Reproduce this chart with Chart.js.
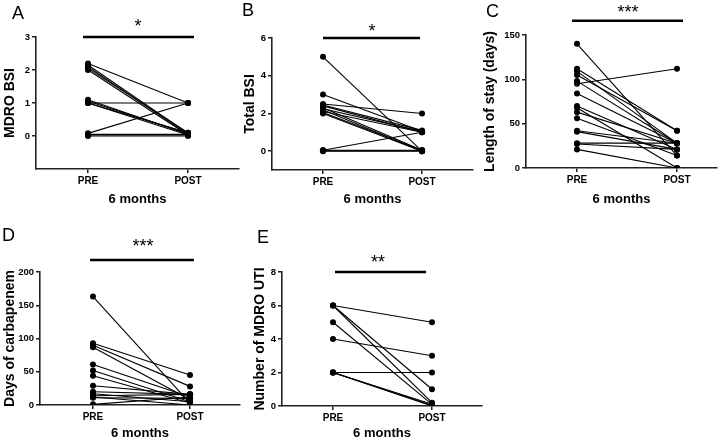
<!DOCTYPE html>
<html>
<head>
<meta charset="utf-8">
<script src="https://cdn.jsdelivr.net/npm/chart.js@4.4.1/dist/chart.umd.min.js"></script>
<style>
body { margin: 0; background: #fff; width: 728px; height: 441px; position: relative; overflow: hidden; font-family: 'Liberation Sans', Arial, sans-serif; }
canvas { position: absolute; }
.letter { position: absolute; font-size: 18px; line-height: 1; color: #000; }
.sig { position: absolute; font-size: 18px; line-height: 1; color: #000; transform: translateX(-50%); white-space: nowrap; }
</style>
</head>
<body>
<script>
// Shared axis text
const xLabels = ['PRE', 'POST'];
const xTitle = '6 months';

// A - MDRO BSI
const preA = [2.2, 2.15, 2.1, 2.05, 2.0, 1.1, 1.05, 1.0, 1.0, 1.0, 0.08, 0.05, 0.03, 0];
const postA = [1, 0.08, 0.05, 0.1, 0.03, 0.05, 0.08, 1, 0.03, 0.1, 1, 0.05, 0.03, 0];
const ticksA = [0, 1, 2, 3];

// B - Total BSI
const preB = [5, 3, 2.5, 2.45, 2.4, 2.3, 2.25, 2.2, 2.1, 2.05, 2.0, 0.05, 0.05, 0.02, 0];
const postB = [0, 1.05, 2, 1.1, 1.0, 0.05, 1.05, 0, 1.0, 0.05, 0, 1.0, 0.05, 0.02, 0];
const ticksB = [0, 2, 4, 6];

// C - Length of stay
const preC = [140, 112, 109, 105, 98, 95, 84, 70, 68, 63, 56, 42, 41, 28, 27, 21];
const postC = [14, 42, 28, 42, 28, 112, 28, 21, 0, 28, 14, 28, 21, 28, 21, 0];
const ticksC = [0, 50, 100, 150];

// D - Days of carbapenem
const preD = [163, 93, 90, 87, 61, 52, 44, 29, 20, 17, 14, 12, 11, 1];
const postD = [3, 45, 28, 8, 12, 5, 3, 16, 16, 5, 16, 0, 10, 12];
const ticksD = [0, 50, 100, 150, 200];

// E - Number of MDRO UTI
const preE = [6, 6, 6, 5, 4, 2, 2, 2, 2];
const postE = [5, 1, 0.2, 0.1, 3, 2, 0.1, 0.05, 0];
const ticksE = [0, 2, 4, 6, 8];

const yTitles = ['MDRO BSI', 'Total BSI', 'Length of stay (days)', 'Days of carbapenem', 'Number of MDRO UTI'];
const panelLetters = ['A', 'B', 'C', 'D', 'E'];
const sigText = ['*', '*', '***', '***', '**'];
const sigLevel = [3, 6, 166, 218, 8];

// layout of each panel (canvas box + chart area edges)
const panels = [
    { pre: preA, post: postA, ticks: ticksA, yMin: -1, yMax: 3, xMin: -0.52, xMax: 1.51, bar: [-0.05, 1.06],
      box: [0, 0, 245, 210], area: [36, 37, 239, 169], letter: [12, 4], star: [138, 17] },
    { pre: preB, post: postB, ticks: ticksB, yMin: -1, yMax: 6, xMin: -0.515, xMax: 1.515, bar: [0, 0.98],
      box: [240, 0, 240, 210], area: [272, 38, 473, 170], letter: [242, 1], star: [372, 22] },
    { pre: preC, post: postC, ticks: ticksC, yMin: 0, yMax: 150, xMin: -0.51, xMax: 1.4, bar: [-0.05, 1.06],
      box: [480, 0, 248, 210], area: [526, 35, 717, 168], letter: [486, 2], star: [628, 3] },
    { pre: preD, post: postD, ticks: ticksD, yMin: 0, yMax: 200, xMin: -0.546, xMax: 1.515, bar: [-0.03, 1.04],
      box: [0, 215, 250, 226], area: [40, 272, 240, 405], letter: [2, 226], star: [143, 237] },
    { pre: preE, post: postE, ticks: ticksE, yMin: 0, yMax: 8, xMin: -0.515, xMax: 1.505, bar: [0.02, 0.94],
      box: [250, 215, 240, 226], area: [282, 272, 482, 406], letter: [257, 228], star: [378, 253] }
];

const AXIS = '#222';
Chart.defaults.font.family = "'Liberation Sans', Arial, sans-serif";
Chart.defaults.color = '#000';

panels.forEach((p, i) => {
    const [bx, by, bw, bh] = p.box;
    const [ax, ay, ar, ab] = p.area;

    const canvas = document.createElement('canvas');
    canvas.width = bw;
    canvas.height = bh;
    canvas.style.left = bx + 'px';
    canvas.style.top = by + 'px';
    document.body.appendChild(canvas);

    const letter = document.createElement('div');
    letter.className = 'letter';
    letter.style.left = p.letter[0] + 'px';
    letter.style.top = p.letter[1] + 'px';
    letter.textContent = panelLetters[i];
    document.body.appendChild(letter);

    const star = document.createElement('div');
    star.className = 'sig';
    star.style.left = p.star[0] + 'px';
    star.style.top = p.star[1] + 'px';
    star.textContent = sigText[i];
    document.body.appendChild(star);

    // one line per subject
    const datasets = p.pre.map((v, k) => ({
        data: [{ x: 0, y: v }, { x: 1, y: p.post[k] }],
        borderColor: '#000',
        borderWidth: 1.1,
        pointRadius: 3,
        pointBackgroundColor: '#000',
        pointBorderWidth: 0
    }));

    // significance bar
    datasets.push({
        data: [{ x: p.bar[0], y: sigLevel[i] }, { x: p.bar[1], y: sigLevel[i] }],
        borderColor: '#000',
        borderWidth: 2.6,
        pointRadius: 0,
        clip: false
    });

    const yWidth = ax - bx;
    const xHeight = (by + bh) - ab;

    new Chart(canvas.getContext('2d'), {
        type: 'line',
        data: { datasets },
        options: {
            responsive: false,
            animation: false,
            events: [],
            layout: { padding: { left: 0, top: ay - by, right: (bx + bw) - ar, bottom: 0 } },
            plugins: { legend: { display: false }, tooltip: { enabled: false } },
            elements: { line: { tension: 0 } },
            scales: {
                x: {
                    type: 'linear',
                    min: p.xMin,
                    max: p.xMax,
                    afterBuildTicks: s => { s.ticks = [{ value: 0 }, { value: 1 }]; },
                    afterFit: s => { s.height = xHeight; },
                    ticks: {
                        callback: v => xLabels[v],
                        font: { size: 10, weight: 'bold' },
                        padding: 2,
                        maxRotation: 0,
                        autoSkip: false
                    },
                    grid: { drawOnChartArea: false, tickLength: 4, color: AXIS, lineWidth: 1.5 },
                    border: { color: AXIS, width: 1.6 },
                    title: {
                        display: true,
                        text: xTitle,
                        font: { size: 13, weight: 'bold' },
                        padding: { top: 0, bottom: i < 3 ? 3 : 0 }
                    }
                },
                y: {
                    min: p.yMin,
                    max: p.yMax,
                    afterBuildTicks: s => { s.ticks = p.ticks.map(v => ({ value: v })); },
                    afterFit: s => { s.width = yWidth; },
                    ticks: { font: { size: 9.5, weight: 'bold' }, padding: 2 },
                    grid: { drawOnChartArea: false, tickLength: 4, color: AXIS, lineWidth: 1.5 },
                    border: { color: AXIS, width: 1.6 },
                    title: {
                        display: true,
                        text: yTitles[i],
                        font: { size: 14, weight: 'bold' },
                        padding: { top: 2, bottom: 0 }
                    }
                }
            }
        }
    });
});
</script>
</body>
</html>
